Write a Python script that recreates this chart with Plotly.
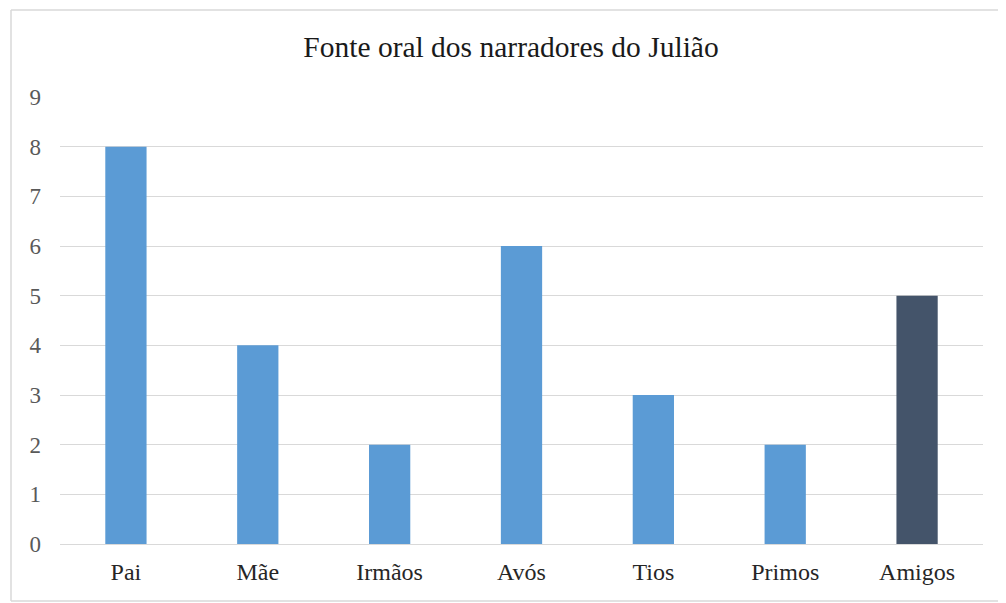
import plotly.graph_objects as go

categories = ["Pai", "Mãe", "Irmãos", "Avós", "Tios", "Primos", "Amigos"]
values = [8, 4, 2, 6, 3, 2, 5]
colors = ["#5B9BD5", "#5B9BD5", "#5B9BD5", "#5B9BD5", "#5B9BD5", "#5B9BD5", "#44546A"]
title_text = "Fonte oral dos narradores do Julião"
y_ticks = list(range(0, 10))

# page body has an 8px default margin; the figure is sized to fill the rest of the window
OFF = 8
W, H = 1006 - OFF, 603 - OFF
L, R, T, B = 60 - OFF, 23, 97 - OFF, 59
pw, ph = W - L - R, H - T - B

def px_x(p):
    return (p - OFF - L) / pw

def px_y(p):
    return (H - B - (p - OFF)) / ph

fig = go.Figure(go.Bar(
    x=categories, y=values, marker_color=colors, marker_line_width=0,
    width=0.313, hoverinfo="x+y",
))

fig.update_layout(
    width=W, height=H,
    margin=dict(l=L, r=R, t=T, b=B),
    paper_bgcolor="white", plot_bgcolor="white",
    font=dict(family="Liberation Serif, Times New Roman, serif"),
    showlegend=False,
    title=dict(text=title_text, x=(511 - OFF) / W, xanchor="center",
               y=1 - (47 - OFF) / H, yanchor="middle", yref="container",
               font=dict(size=29.5, color="#1a1a1a",
                         family="Liberation Serif, Times New Roman, serif")),
    xaxis=dict(showgrid=False, showline=False, zeroline=False, ticks="",
               tickfont=dict(size=24, color="#262626"), ticklabelstandoff=11,
               range=[-0.5, 6.5]),
    yaxis=dict(range=[0, 9], tickvals=y_ticks, showgrid=True, gridcolor="#D9D9D9",
               gridwidth=1.3, zeroline=True, zerolinecolor="#D9D9D9", zerolinewidth=1.3,
               showline=False, ticks="", tickfont=dict(size=23, color="#595959"),
               ticklabelstandoff=18),
    shapes=[dict(type="line", xref="paper", yref="paper",
                 x0=px_x(11), x1=px_x(1300), y0=px_y(10), y1=px_y(10),
                 line=dict(color="#D9D9D9", width=1.5), layer="below"),
            dict(type="line", xref="paper", yref="paper",
                 x0=px_x(11), x1=px_x(1300), y0=px_y(601), y1=px_y(601),
                 line=dict(color="#D9D9D9", width=1.5), layer="below"),
            dict(type="line", xref="paper", yref="paper",
                 x0=px_x(11), x1=px_x(11), y0=px_y(601), y1=px_y(10),
                 line=dict(color="#D9D9D9", width=1.5), layer="below")],
)

fig.write_html("out.html")
